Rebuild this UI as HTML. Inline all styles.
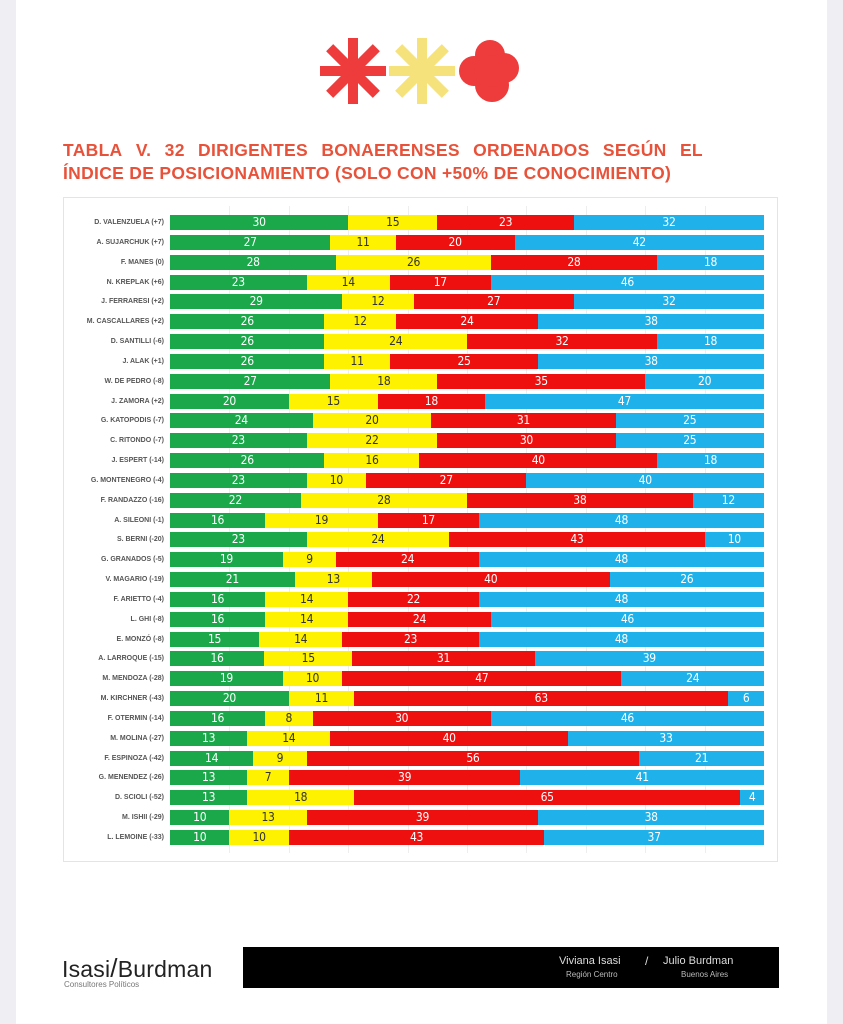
<!DOCTYPE html>
<html><head><meta charset="utf-8"><style>
body{margin:0;width:843px;height:1024px;background:#efeff3;font-family:"Liberation Sans",sans-serif;position:relative;overflow:hidden}
.page{position:absolute;left:16px;top:0;width:811px;height:1024px;background:#fff}
.title{position:absolute;left:63px;top:139px;width:640px;color:#e8523a;font-weight:bold;font-size:17.5px;line-height:23px;letter-spacing:0.3px}
.l1{white-space:nowrap;display:flex;justify-content:space-between}
.box{position:absolute;left:63px;top:197px;width:713px;height:663px;border:1px solid #e4e4e4;background:#fff}
.grid{position:absolute;top:8px;bottom:8px;width:1px;background:#eee}
.row{position:absolute;left:0;width:713px;height:15px}
.lab{position:absolute;right:613px;top:0;font-size:7px;font-weight:bold;color:#555;line-height:15px;white-space:nowrap}
.bar{position:absolute;left:106px;width:594px;height:15px;display:flex}
.bar span{display:block;height:15px;text-align:center;font-family:"DejaVu Sans Condensed","Liberation Sans Narrow","Liberation Sans",sans-serif;font-stretch:condensed;font-size:12px;letter-spacing:-0.3px;line-height:15px;color:#fff;overflow:hidden}
.g{background:#1ba84b}.y{background:#fff200;color:#333!important}.r{background:#ee0f0f}.b{background:#1fb1ea}
.foot{position:absolute;left:243px;top:947px;width:536px;height:41px;background:#000}
</style></head><body>
<div class="page"></div>
<svg style="position:absolute;left:318px;top:35px" width="206" height="72" viewBox="0 0 206 72">
<g transform="translate(35,36)" fill="#ee3b3b"><rect x="-5" y="-33" width="10" height="66"/><rect x="-5" y="-33" width="10" height="66" transform="rotate(45)"/><rect x="-5" y="-33" width="10" height="66" transform="rotate(90)"/><rect x="-5" y="-33" width="10" height="66" transform="rotate(135)"/></g>
<g transform="translate(104,36)" fill="#f5e27a"><rect x="-5" y="-33" width="10" height="66"/><rect x="-5" y="-33" width="10" height="66" transform="rotate(45)"/><rect x="-5" y="-33" width="10" height="66" transform="rotate(90)"/><rect x="-5" y="-33" width="10" height="66" transform="rotate(135)"/></g>
<g fill="#ee3b3b"><circle cx="172" cy="20" r="15"/><circle cx="186" cy="33" r="15"/><circle cx="174" cy="50" r="17"/><circle cx="156" cy="36" r="15"/><circle cx="172" cy="36" r="16"/></g>
</svg>
<div class="title"><div class="l1"><span>TABLA</span><span>V.</span><span>32</span><span>DIRIGENTES</span><span>BONAERENSES</span><span>ORDENADOS</span><span>SEGÚN</span><span>EL</span></div><div>ÍNDICE DE POSICIONAMIENTO (SOLO CON +50% DE CONOCIMIENTO)</div></div>
<div class="box">
<div class="grid" style="left:165px"></div><div class="grid" style="left:225px"></div><div class="grid" style="left:284px"></div><div class="grid" style="left:344px"></div><div class="grid" style="left:403px"></div><div class="grid" style="left:462px"></div><div class="grid" style="left:522px"></div><div class="grid" style="left:581px"></div><div class="grid" style="left:641px"></div>
<div class="row" style="top:17px"><div class="lab">D. VALENZUELA (+7)</div><div class="bar"><span class="g" style="flex:30">30</span><span class="y" style="flex:15">15</span><span class="r" style="flex:23">23</span><span class="b" style="flex:32">32</span></div></div>
<div class="row" style="top:37px"><div class="lab">A. SUJARCHUK (+7)</div><div class="bar"><span class="g" style="flex:27">27</span><span class="y" style="flex:11">11</span><span class="r" style="flex:20">20</span><span class="b" style="flex:42">42</span></div></div>
<div class="row" style="top:57px"><div class="lab">F. MANES (0)</div><div class="bar"><span class="g" style="flex:28">28</span><span class="y" style="flex:26">26</span><span class="r" style="flex:28">28</span><span class="b" style="flex:18">18</span></div></div>
<div class="row" style="top:77px"><div class="lab">N. KREPLAK (+6)</div><div class="bar"><span class="g" style="flex:23">23</span><span class="y" style="flex:14">14</span><span class="r" style="flex:17">17</span><span class="b" style="flex:46">46</span></div></div>
<div class="row" style="top:96px"><div class="lab">J. FERRARESI (+2)</div><div class="bar"><span class="g" style="flex:29">29</span><span class="y" style="flex:12">12</span><span class="r" style="flex:27">27</span><span class="b" style="flex:32">32</span></div></div>
<div class="row" style="top:116px"><div class="lab">M. CASCALLARES (+2)</div><div class="bar"><span class="g" style="flex:26">26</span><span class="y" style="flex:12">12</span><span class="r" style="flex:24">24</span><span class="b" style="flex:38">38</span></div></div>
<div class="row" style="top:136px"><div class="lab">D. SANTILLI (-6)</div><div class="bar"><span class="g" style="flex:26">26</span><span class="y" style="flex:24">24</span><span class="r" style="flex:32">32</span><span class="b" style="flex:18">18</span></div></div>
<div class="row" style="top:156px"><div class="lab">J. ALAK (+1)</div><div class="bar"><span class="g" style="flex:26">26</span><span class="y" style="flex:11">11</span><span class="r" style="flex:25">25</span><span class="b" style="flex:38">38</span></div></div>
<div class="row" style="top:176px"><div class="lab">W. DE PEDRO (-8)</div><div class="bar"><span class="g" style="flex:27">27</span><span class="y" style="flex:18">18</span><span class="r" style="flex:35">35</span><span class="b" style="flex:20">20</span></div></div>
<div class="row" style="top:196px"><div class="lab">J. ZAMORA (+2)</div><div class="bar"><span class="g" style="flex:20">20</span><span class="y" style="flex:15">15</span><span class="r" style="flex:18">18</span><span class="b" style="flex:47">47</span></div></div>
<div class="row" style="top:215px"><div class="lab">G. KATOPODIS (-7)</div><div class="bar"><span class="g" style="flex:24">24</span><span class="y" style="flex:20">20</span><span class="r" style="flex:31">31</span><span class="b" style="flex:25">25</span></div></div>
<div class="row" style="top:235px"><div class="lab">C. RITONDO (-7)</div><div class="bar"><span class="g" style="flex:23">23</span><span class="y" style="flex:22">22</span><span class="r" style="flex:30">30</span><span class="b" style="flex:25">25</span></div></div>
<div class="row" style="top:255px"><div class="lab">J. ESPERT (-14)</div><div class="bar"><span class="g" style="flex:26">26</span><span class="y" style="flex:16">16</span><span class="r" style="flex:40">40</span><span class="b" style="flex:18">18</span></div></div>
<div class="row" style="top:275px"><div class="lab">G. MONTENEGRO (-4)</div><div class="bar"><span class="g" style="flex:23">23</span><span class="y" style="flex:10">10</span><span class="r" style="flex:27">27</span><span class="b" style="flex:40">40</span></div></div>
<div class="row" style="top:295px"><div class="lab">F. RANDAZZO (-16)</div><div class="bar"><span class="g" style="flex:22">22</span><span class="y" style="flex:28">28</span><span class="r" style="flex:38">38</span><span class="b" style="flex:12">12</span></div></div>
<div class="row" style="top:315px"><div class="lab">A. SILEONI (-1)</div><div class="bar"><span class="g" style="flex:16">16</span><span class="y" style="flex:19">19</span><span class="r" style="flex:17">17</span><span class="b" style="flex:48">48</span></div></div>
<div class="row" style="top:334px"><div class="lab">S. BERNI (-20)</div><div class="bar"><span class="g" style="flex:23">23</span><span class="y" style="flex:24">24</span><span class="r" style="flex:43">43</span><span class="b" style="flex:10">10</span></div></div>
<div class="row" style="top:354px"><div class="lab">G. GRANADOS (-5)</div><div class="bar"><span class="g" style="flex:19">19</span><span class="y" style="flex:9">9</span><span class="r" style="flex:24">24</span><span class="b" style="flex:48">48</span></div></div>
<div class="row" style="top:374px"><div class="lab">V. MAGARIO (-19)</div><div class="bar"><span class="g" style="flex:21">21</span><span class="y" style="flex:13">13</span><span class="r" style="flex:40">40</span><span class="b" style="flex:26">26</span></div></div>
<div class="row" style="top:394px"><div class="lab">F. ARIETTO (-4)</div><div class="bar"><span class="g" style="flex:16">16</span><span class="y" style="flex:14">14</span><span class="r" style="flex:22">22</span><span class="b" style="flex:48">48</span></div></div>
<div class="row" style="top:414px"><div class="lab">L. GHI (-8)</div><div class="bar"><span class="g" style="flex:16">16</span><span class="y" style="flex:14">14</span><span class="r" style="flex:24">24</span><span class="b" style="flex:46">46</span></div></div>
<div class="row" style="top:434px"><div class="lab">E. MONZÓ (-8)</div><div class="bar"><span class="g" style="flex:15">15</span><span class="y" style="flex:14">14</span><span class="r" style="flex:23">23</span><span class="b" style="flex:48">48</span></div></div>
<div class="row" style="top:453px"><div class="lab">A. LARROQUE (-15)</div><div class="bar"><span class="g" style="flex:16">16</span><span class="y" style="flex:15">15</span><span class="r" style="flex:31">31</span><span class="b" style="flex:39">39</span></div></div>
<div class="row" style="top:473px"><div class="lab">M. MENDOZA (-28)</div><div class="bar"><span class="g" style="flex:19">19</span><span class="y" style="flex:10">10</span><span class="r" style="flex:47">47</span><span class="b" style="flex:24">24</span></div></div>
<div class="row" style="top:493px"><div class="lab">M. KIRCHNER (-43)</div><div class="bar"><span class="g" style="flex:20">20</span><span class="y" style="flex:11">11</span><span class="r" style="flex:63">63</span><span class="b" style="flex:6">6</span></div></div>
<div class="row" style="top:513px"><div class="lab">F. OTERMIN (-14)</div><div class="bar"><span class="g" style="flex:16">16</span><span class="y" style="flex:8">8</span><span class="r" style="flex:30">30</span><span class="b" style="flex:46">46</span></div></div>
<div class="row" style="top:533px"><div class="lab">M. MOLINA (-27)</div><div class="bar"><span class="g" style="flex:13">13</span><span class="y" style="flex:14">14</span><span class="r" style="flex:40">40</span><span class="b" style="flex:33">33</span></div></div>
<div class="row" style="top:553px"><div class="lab">F. ESPINOZA (-42)</div><div class="bar"><span class="g" style="flex:14">14</span><span class="y" style="flex:9">9</span><span class="r" style="flex:56">56</span><span class="b" style="flex:21">21</span></div></div>
<div class="row" style="top:572px"><div class="lab">G. MENENDEZ (-26)</div><div class="bar"><span class="g" style="flex:13">13</span><span class="y" style="flex:7">7</span><span class="r" style="flex:39">39</span><span class="b" style="flex:41">41</span></div></div>
<div class="row" style="top:592px"><div class="lab">D. SCIOLI (-52)</div><div class="bar"><span class="g" style="flex:13">13</span><span class="y" style="flex:18">18</span><span class="r" style="flex:65">65</span><span class="b" style="flex:4">4</span></div></div>
<div class="row" style="top:612px"><div class="lab">M. ISHII (-29)</div><div class="bar"><span class="g" style="flex:10">10</span><span class="y" style="flex:13">13</span><span class="r" style="flex:39">39</span><span class="b" style="flex:38">38</span></div></div>
<div class="row" style="top:632px"><div class="lab">L. LEMOINE (-33)</div><div class="bar"><span class="g" style="flex:10">10</span><span class="y" style="flex:10">10</span><span class="r" style="flex:43">43</span><span class="b" style="flex:37">37</span></div></div>
</div>
<div style="position:absolute;left:62px;top:953px;font-size:23px;color:#222;letter-spacing:0.2px">Isasi<span style="font-size:26px">/</span>Burdman</div>
<div style="position:absolute;left:64px;top:980px;font-size:8px;color:#777">Consultores Políticos</div>
<div class="foot">
<div style="position:absolute;left:316px;top:8px;font-size:11px;color:#ddd">Viviana Isasi</div>
<div style="position:absolute;left:323px;top:23px;font-size:8px;color:#bbb">Región Centro</div>
<div style="position:absolute;left:402px;top:7px;font-size:12px;color:#ddd">/</div>
<div style="position:absolute;left:420px;top:8px;font-size:11px;color:#ddd">Julio Burdman</div>
<div style="position:absolute;left:438px;top:23px;font-size:8px;color:#bbb">Buenos Aires</div>
</div>
</body></html>
